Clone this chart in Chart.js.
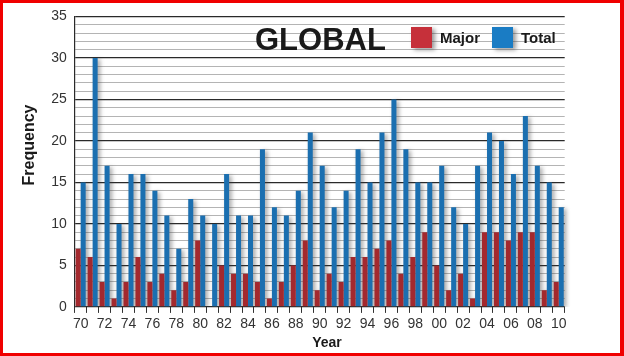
<!DOCTYPE html>
<html>
<head>
<meta charset="utf-8">
<script src="https://cdn.jsdelivr.net/npm/chart.js@4.4.1/dist/chart.umd.min.js"></script>
<style>
  html, body { margin: 0; padding: 0; background: #ffffff; }
  #wrap { position: relative; width: 624px; height: 356px; }
  canvas { display: block; }
</style>
</head>
<body>
<div id="wrap"><canvas id="c" width="624" height="356"></canvas></div>
<script>
// ---- Data ----
const categories = ['70','71','72','73','74','75','76','77','78','79','80','81','82','83','84','85','86','87','88','89','90','91','92','93','94','95','96','97','98','99','00','01','02','03','04','05','06','07','08','09','10'];
const majorValues = [7,6,3,1,3,6,3,4,2,3,8,0,5,4,4,3,1,3,5,8,2,4,3,6,6,7,8,4,6,9,5,2,4,1,9,9,8,9,9,2,3];
const totalValues = [15,30,17,10,16,16,14,11,7,13,11,10,16,11,11,19,12,11,14,21,17,12,14,19,15,21,25,19,15,15,17,12,10,17,21,20,16,23,17,15,12];
const yTickLabels = [0,5,10,15,20,25,30,35];
const seriesNames = ['Major','Total'];
const chartTitle = 'GLOBAL';
const xAxisTitle = 'Year';
const yAxisTitle = 'Frequency';

const barRed = '#a3292e';
const barBlue = '#1b6fb0';
const legRed = '#c6303a';
const legBlue = '#1a7cc4';
const NARROW = "'Liberation Sans Narrow', 'Liberation Sans', Arial, sans-serif";
const SANS = "'Liberation Sans', Arial, sans-serif";

const shadowPlugin = {
  id: 'barShadow',
  beforeDraw(chart) {
    const ctx = chart.ctx;
    ctx.save();
    ctx.fillStyle = '#ffffff';
    ctx.fillRect(0, 0, chart.width, chart.height);
    ctx.restore();
  },
  beforeDatasetsDraw(chart) {
    const ctx = chart.ctx;
    const a = chart.chartArea;
    ctx.save();
    ctx.beginPath();
    ctx.rect(a.left, a.top, a.right - a.left + 8, a.bottom - a.top);
    ctx.clip();
    ctx.filter = 'blur(2px)';
    ctx.fillStyle = 'rgba(60,60,60,0.45)';
    chart.data.datasets.forEach((ds, i) => {
      const meta = chart.getDatasetMeta(i);
      meta.data.forEach(el => {
        const p = el.getProps(['x','y','base','width'], true);
        const h = p.base - p.y;
        if (h <= 0) return;
        ctx.fillRect(p.x - p.width / 2 + 2.5, p.y + 1.5, p.width, h);
      });
    });
    ctx.restore();
  },
  afterDraw(chart) {
    const ctx = chart.ctx;
    ctx.save();
    // Title
    ctx.fillStyle = '#1a1a1a';
    ctx.font = "bold 31px " + SANS;
    ctx.textBaseline = 'alphabetic';
    ctx.textAlign = 'left';
    ctx.fillText(chartTitle, 255, 50);
    // Legend
    const items = [
      {name: seriesNames[0], color: legRed, x: 411},
      {name: seriesNames[1], color: legBlue, x: 492}
    ];
    items.forEach(it => {
      ctx.save();
      ctx.filter = 'blur(2px)';
      ctx.fillStyle = 'rgba(60,60,60,0.5)';
      ctx.fillRect(it.x + 3, 29, 21, 21);
      ctx.restore();
      ctx.fillStyle = it.color;
      ctx.fillRect(it.x, 27, 21, 21);
      ctx.fillStyle = '#1a1a1a';
      ctx.font = "bold 15px " + SANS;
      ctx.fillText(it.name, it.x + 29, 43);
    });
    // Axis titles
    ctx.font = "bold 16px " + SANS;
    ctx.textAlign = 'center';
    ctx.textBaseline = 'middle';
    ctx.save();
    ctx.translate(30, 145);
    ctx.rotate(-Math.PI / 2);
    ctx.fillText(yAxisTitle, 0, 0);
    ctx.restore();
    ctx.font = "bold 14px " + SANS;
    ctx.textBaseline = 'alphabetic';
    ctx.fillText(xAxisTitle, 327, 347);
    // Frame
    ctx.fillStyle = '#f00000';
    ctx.fillRect(0, 0, 624, 3);
    ctx.fillRect(0, 0, 3, 356);
    ctx.fillRect(620, 0, 4, 356);
    ctx.fillRect(0, 353, 624, 3);
    ctx.restore();
  }
};

new Chart(document.getElementById('c'), {
  type: 'bar',
  data: {
    labels: categories,
    datasets: [
      { label: seriesNames[0], data: majorValues, backgroundColor: barRed, borderWidth: 0 },
      { label: seriesNames[1], data: totalValues, backgroundColor: barBlue, borderWidth: 0 }
    ]
  },
  options: {
    responsive: false,
    animation: false,
    devicePixelRatio: 1,
    layout: { padding: { left: 0, right: 59.3, top: 15.7, bottom: 0 } },
    datasets: { bar: { categoryPercentage: 0.84, barPercentage: 1.0 } },
    plugins: { legend: { display: false }, tooltip: { enabled: false }, title: { display: false } },
    scales: {
      x: {
        offset: true,
        afterFit(scale) { scale.height = 49.1; },
        grid: { offset: true, drawOnChartArea: false, drawTicks: true, tickLength: 6, color: '#333333', lineWidth: 1 },
        border: { display: false },
        ticks: {
          autoSkip: false, maxRotation: 0, minRotation: 0, padding: 3,
          color: '#333333',
          font: { family: NARROW, size: 14 },
          callback(v, i) { return i % 2 === 0 ? categories[i] : ''; }
        }
      },
      y: {
        min: yTickLabels[0],
        max: yTickLabels[yTickLabels.length - 1],
        afterFit(scale) { scale.width = 74.7; },
        grid: {
          drawTicks: false,
          color(ctx) { return (ctx.tick && yTickLabels.includes(ctx.tick.value)) ? '#2a2a2a' : '#b4b4b4'; },
          lineWidth(ctx) { return (ctx.tick && yTickLabels.includes(ctx.tick.value)) ? 1.2 : 1; }
        },
        border: { display: true, color: '#2a2a2a', width: 1.2 },
        ticks: {
          stepSize: 1, maxTicksLimit: 100, autoSkip: false, padding: 8, color: '#333333',
          font: { family: NARROW, size: 14 },
          callback(v) { return yTickLabels.includes(v) ? String(v) : ''; }
        }
      }
    }
  },
  plugins: [shadowPlugin]
});
</script>
</body>
</html>
